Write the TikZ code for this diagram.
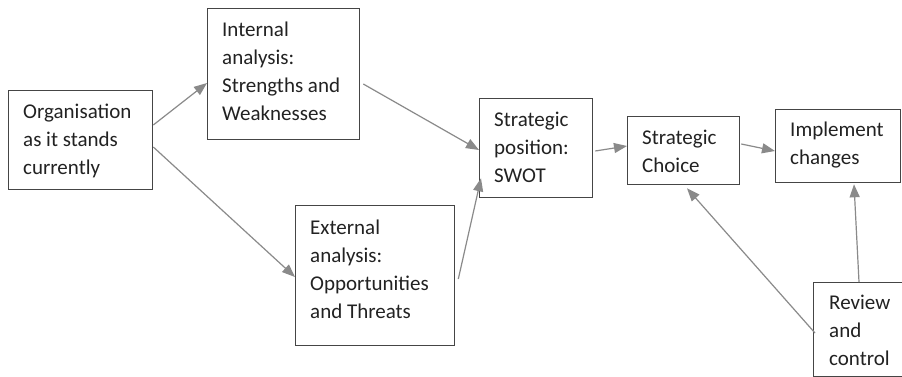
\documentclass[tikz,border=0pt]{standalone}
\usepackage{fontspec}
\setmainfont{Carlito}
\usetikzlibrary{arrows.meta,calc}

\definecolor{boxline}{HTML}{454545}
\definecolor{flowline}{HTML}{8A8A8A}
\definecolor{ink}{HTML}{222222}

\tikzset{
  stagebox/.style={draw=boxline, line width=1.3pt, fill=white, inner sep=0pt,
                   anchor=north west, minimum width=#1},
  stagetext/.style={anchor=base west, inner sep=0pt, text=ink,
                    font=\fontsize{21}{28}\selectfont},
  flow/.style={draw=flowline, line width=1.2pt,
               -{Triangle[length=13pt,width=10pt]}}
}

\begin{document}
% y axis points down: positive y offsets move downwards
\begin{tikzpicture}[x=1pt,y=-1pt]
\useasboundingbox[fill=white] (0,0) rectangle (902,377);

% stage boxes
\node[stagebox=144pt, minimum height=99pt]  (org)    at (8,90)    {};
\node[stagebox=152pt, minimum height=131pt] (int)    at (207,8)   {};
\node[stagebox=159pt, minimum height=140pt] (ext)    at (295,205) {};
\node[stagebox=113pt, minimum height=99pt]  (sp)     at (479,98)  {};
\node[stagebox=112pt, minimum height=68pt]  (choice) at (627,116) {};
\node[stagebox=125pt, minimum height=73pt]  (impl)   at (775,109) {};
\node[stagebox=102pt, minimum height=94pt]  (review) at (813,282) {};

% box labels, first baseline 29pt below the top edge
\node[stagetext] (orgtxt) at ([shift={(15,29)}]org.north west)
  {\begin{tabular}[t]{@{}l@{}}Organisation\\as it stands\\currently\end{tabular}};
\node[stagetext] (inttxt) at ([shift={(15,29)}]int.north west)
  {\begin{tabular}[t]{@{}l@{}}Internal\\analysis:\\Strengths and\\Weaknesses\end{tabular}};
\node[stagetext] (exttxt) at ([shift={(15,29)}]ext.north west)
  {\begin{tabular}[t]{@{}l@{}}External\\analysis:\\Opportunities\\and Threats\end{tabular}};
\node[stagetext] (sptxt) at ([shift={(15,29)}]sp.north west)
  {\begin{tabular}[t]{@{}l@{}}Strategic\\position:\\SWOT\end{tabular}};
\node[stagetext] (choicetxt) at ([shift={(15,29)}]choice.north west)
  {\begin{tabular}[t]{@{}l@{}}Strategic\\Choice\end{tabular}};
\node[stagetext] (impltxt) at ([shift={(15,28)}]impl.north west)
  {\begin{tabular}[t]{@{}l@{}}Implement\\changes\end{tabular}};
\node[stagetext] (reviewtxt) at ([shift={(16,27)}]review.north west)
  {\begin{tabular}[t]{@{}l@{}}Review\\and\\control\end{tabular}};

% flow between stages
\draw[flow] ([shift={(0,35)}]org.north east) -- ([shift={(0,75)}]int.north west);
\draw[flow] ([shift={(0,57)}]org.north east) -- ([shift={(0,72)}]ext.north west);
\draw[flow] ([shift={(3,76)}]int.north east) -- ([shift={(0,52)}]sp.north west);
\draw[flow] ([shift={(3,74)}]ext.north east) -- ([shift={(2,-20)}]sp.south west);
\draw[flow] ([shift={(2,53)}]sp.north east) -- ([shift={(0,30)}]choice.north west);
\draw[flow] ([shift={(1,28)}]choice.north east) -- ([shift={(0,42)}]impl.north west);
\draw[flow] ([shift={(2,51)}]review.north west) -- ([shift={(60,3)}]choice.south west);
\draw[flow] ([shift={(46,0)}]review.north west) -- ([shift={(79,1)}]impl.south west);
\end{tikzpicture}
\end{document}
